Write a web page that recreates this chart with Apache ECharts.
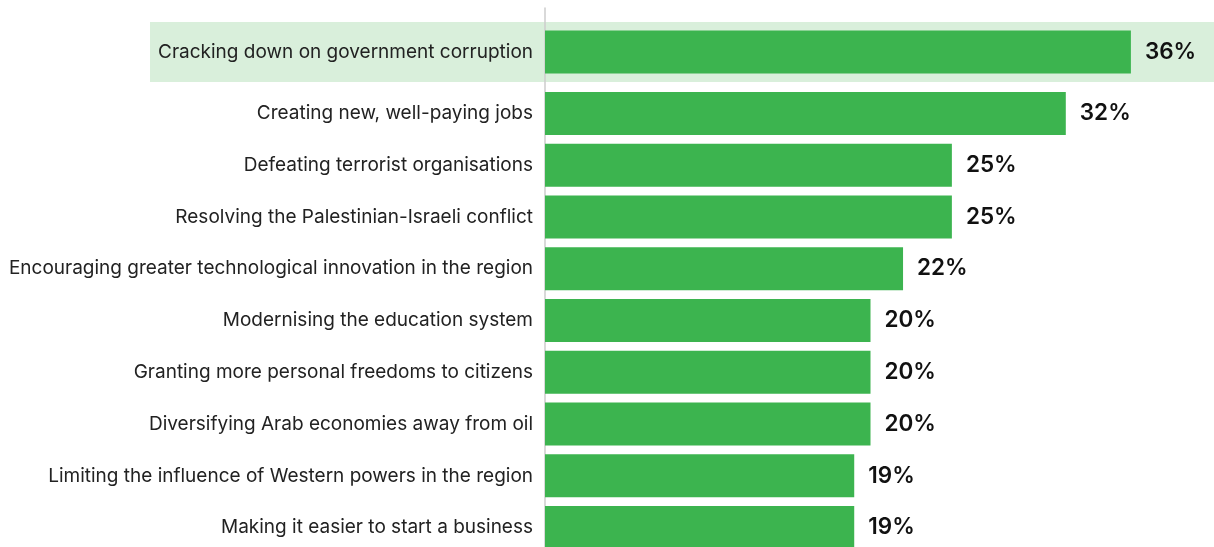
<!DOCTYPE html>
<html>
<head>
<meta charset="utf-8">
<script src="https://cdn.jsdelivr.net/npm/echarts@6/dist/echarts.min.js"></script>
<style>
  html, body { margin: 0; padding: 0; background: #fff; }
  #chart { width: 1214px; height: 547px; }
</style>
</head>
<body>
<div id="chart"></div>
<script>
const categories = [
  "Cracking down on government corruption",
  "Creating new, well-paying jobs",
  "Defeating terrorist organisations",
  "Resolving the Palestinian-Israeli conflict",
  "Encouraging greater technological innovation in the region",
  "Modernising the education system",
  "Granting more personal freedoms to citizens",
  "Diversifying Arab economies away from oil",
  "Limiting the influence of Western powers in the region",
  "Making it easier to start a business"
];
const values = [36, 32, 25, 25, 22, 20, 20, 20, 19, 19];

const barColor = "#3cb44f";
const font = "Inter, 'Noto Sans', sans-serif";

const chart = echarts.init(document.getElementById("chart"));

const labelStyle = {
  color: "#222",
  fontSize: 19,
  fontFamily: font,
  margin: 12,
  padding: [3, 0, 0, 0]
};
const valueLabel = {
  show: true,
  position: "right",
  distance: 14,
  formatter: "{c}%",
  color: "#111",
  fontSize: 22.5,
  fontWeight: 600,
  fontFamily: font
};

const option = {
  animation: false,
  graphic: [{
    type: "rect",
    z: -10,
    shape: { x: 150, y: 22, width: 1064, height: 60 },
    style: { fill: "#d9efdb" }
  }],
  grid: [
    { left: 545, right: 18, top: 22, height: 60, outerBoundsMode: "none" },
    { left: 545, right: 18, top: 87.5, height: 466, outerBoundsMode: "none" },
    { left: 545, right: 18, top: 8, bottom: 0, outerBoundsMode: "none" }
  ],
  xAxis: [0, 1, 2].map(i => ({
    type: "value",
    gridIndex: i,
    min: 0,
    max: 40,
    show: false
  })),
  yAxis: [
    {
      type: "category",
      gridIndex: 0,
      data: categories.slice(0, 1),
      axisLine: { show: false },
      axisTick: { show: false },
      axisLabel: labelStyle
    },
    {
      type: "category",
      gridIndex: 1,
      inverse: true,
      data: categories.slice(1),
      axisLine: { show: false },
      axisTick: { show: false },
      axisLabel: labelStyle
    },
    {
      type: "category",
      gridIndex: 2,
      data: [""],
      axisLine: { show: true, lineStyle: { color: "#cccccc", width: 1.5 } },
      axisTick: { show: false },
      axisLabel: { show: false }
    }
  ],
  series: [
    {
      type: "bar",
      xAxisIndex: 0,
      yAxisIndex: 0,
      data: values.slice(0, 1),
      barWidth: 43,
      itemStyle: { color: barColor },
      label: valueLabel,
      z: 3
    },
    {
      type: "bar",
      xAxisIndex: 1,
      yAxisIndex: 1,
      data: values.slice(1),
      barWidth: 43,
      itemStyle: { color: barColor },
      label: valueLabel,
      z: 3
    }
  ]
};

chart.setOption(option);
</script>
</body>
</html>
